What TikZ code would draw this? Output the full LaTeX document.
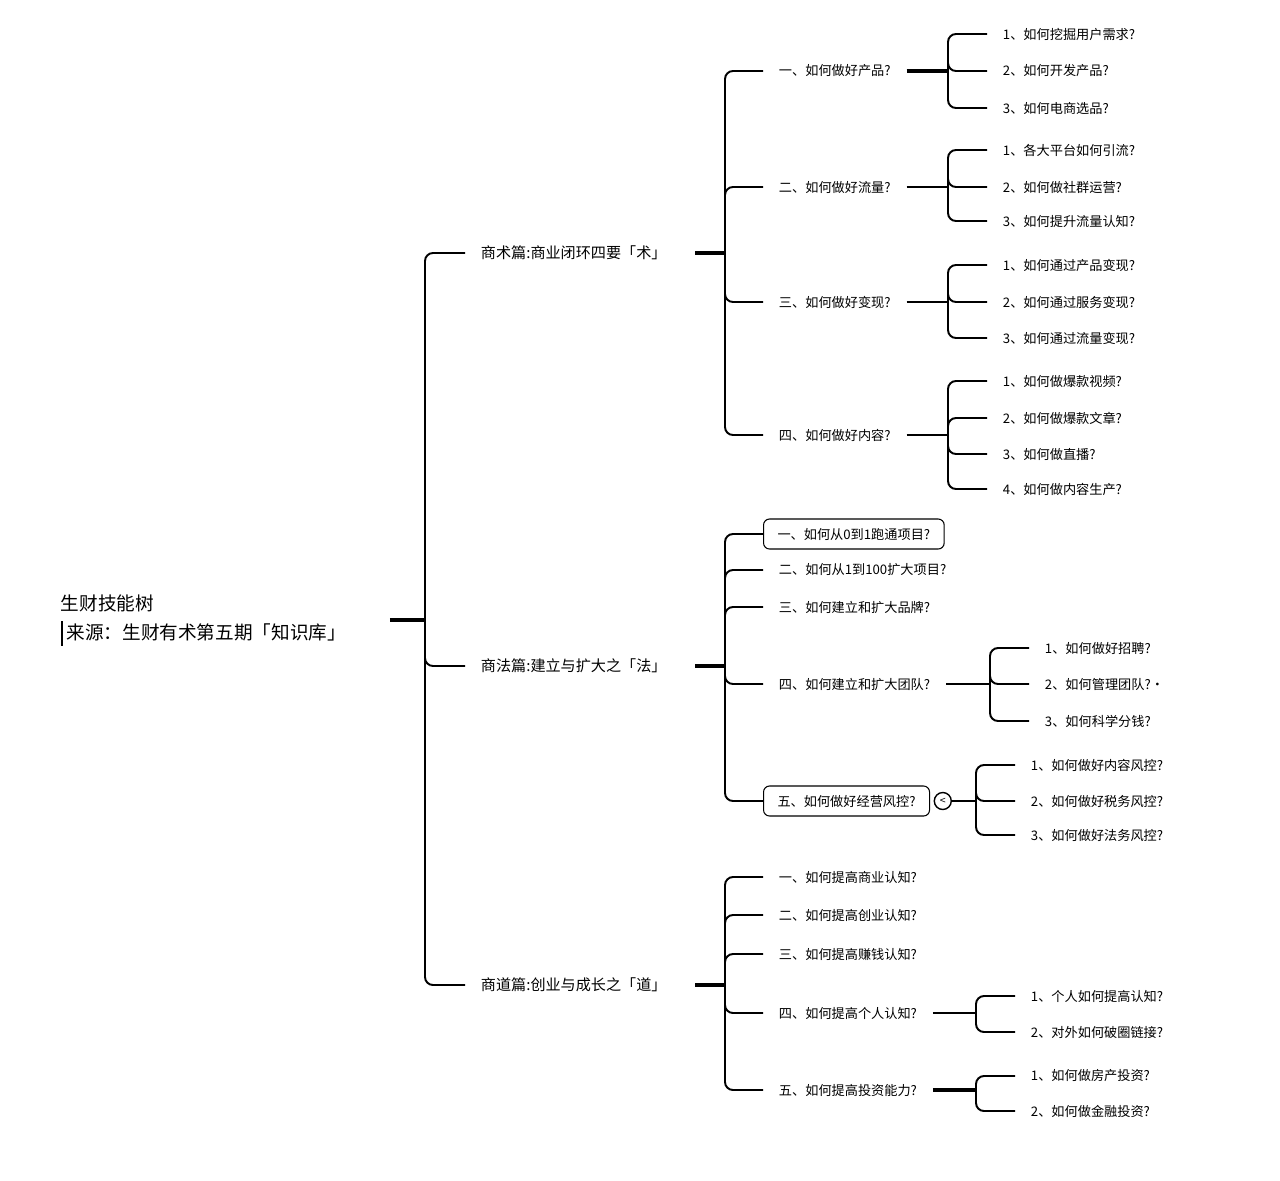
\documentclass[tikz,border=0pt]{standalone}
\usepackage{fontspec}
\setmainfont{Noto Sans CJK SC}
\usetikzlibrary{positioning}

\begin{document}
\begin{tikzpicture}[
            x = 0.02cm, y = -0.02cm, % one unit = one pixel of the sketch
            line width = 1.1pt, % line style
            link/.style = {line width = 1.1pt, rounded corners = 0.16cm},
            bold link/.style = {line width = 1.8pt}
        ]

        \tikzstyle{topic}=[
            anchor = west,
            inner xsep = 0.3cm,
            inner ysep = 0.12cm,
            font = \fontsize{8.6pt}{10pt}\selectfont
        ]
        \tikzstyle{sub}=[
            anchor = west,
            inner xsep = 0.3cm,
            inner ysep = 0.12cm,
            font = \fontsize{7.5pt}{9pt}\selectfont
        ]
        \tikzstyle{picked}=[
            draw = black,
            line width = 0.6pt,
            rounded corners = 0.12cm,
            inner xsep = 0.28cm,
            minimum height = 0.6cm
        ]

        \useasboundingbox (0,0) rectangle (1280,1180);

        % root
        \node[anchor=west, inner xsep=0.26cm, text width=6.3cm, align=left,
              font=\fontsize{10.6pt}{17pt}\selectfont] (root) at (47,620)
              {生财技能树\\\rule[-0.3em]{1.1pt}{1.3em}\hspace{0.2em}来源：生财有术第五期「知识库」};
        \coordinate (jr) at (425,620);

        % sections
        \node[topic] (s1) at (465,253) {商术篇:商业闭环四要「术」};
        \node[topic] (s2) at (465,666) {商法篇:建立与扩大之「法」};
        \node[topic] (s3) at (465,985) {商道篇:创业与成长之「道」};
        \coordinate (ja) at (725,253);
        \coordinate (jb) at (725,666);
        \coordinate (jc) at (725,985);

        % 术
        \node[sub] (a1) at (763,71)  {一、如何做好产品?};
        \node[sub] (a2) at (763,187) {二、如何做好流量?};
        \node[sub] (a3) at (763,302) {三、如何做好变现?};
        \node[sub] (a4) at (763,435) {四、如何做好内容?};
        \coordinate (ja1) at (948,71);
        \coordinate (ja2) at (948,187);
        \coordinate (ja3) at (948,302);
        \coordinate (ja4) at (948,435);

        \node[sub] (a11) at (987,34)  {1、如何挖掘用户需求?};
        \node[sub] (a12) at (987,71)  {2、如何开发产品?};
        \node[sub] (a13) at (987,108) {3、如何电商选品?};
        \node[sub] (a21) at (987,150) {1、各大平台如何引流?};
        \node[sub] (a22) at (987,187) {2、如何做社群运营?};
        \node[sub] (a23) at (987,221) {3、如何提升流量认知?};
        \node[sub] (a31) at (987,265) {1、如何通过产品变现?};
        \node[sub] (a32) at (987,302) {2、如何通过服务变现?};
        \node[sub] (a33) at (987,338) {3、如何通过流量变现?};
        \node[sub] (a41) at (987,381) {1、如何做爆款视频?};
        \node[sub] (a42) at (987,418) {2、如何做爆款文章?};
        \node[sub] (a43) at (987,454) {3、如何做直播?};
        \node[sub] (a44) at (987,489) {4、如何做内容生产?};

        % 法
        \node[sub, picked] (b1) at (763,534) {一、如何从0到1跑通项目?};
        \node[sub] (b2) at (763,570) {二、如何从1到100扩大项目?};
        \node[sub] (b3) at (763,607) {三、如何建立和扩大品牌?};
        \node[sub] (b4) at (763,684) {四、如何建立和扩大团队?};
        \node[sub, picked] (b5) at (763,801) {五、如何做好经营风控?};
        \node[circle, draw, line width=0.8pt, minimum size=0.34cm, inner sep=0pt,
              right=0.07cm of b5, font=\fontsize{6pt}{6pt}\selectfont] (fold) {<};
        \coordinate (jb4) at (990,684);
        \coordinate (jb5) at (976,801);

        \node[sub] (b41) at (1029,648) {1、如何做好招聘?};
        \node[sub] (b42) at (1029,684) {2、如何管理团队?·};
        \node[sub] (b43) at (1029,721) {3、如何科学分钱?};
        \node[sub] (b51) at (1015,765) {1、如何做好内容风控?};
        \node[sub] (b52) at (1015,801) {2、如何做好税务风控?};
        \node[sub] (b53) at (1015,835) {3、如何做好法务风控?};

        % 道
        \node[sub] (c1) at (763,877)  {一、如何提高商业认知?};
        \node[sub] (c2) at (763,915)  {二、如何提高创业认知?};
        \node[sub] (c3) at (763,954)  {三、如何提高赚钱认知?};
        \node[sub] (c4) at (763,1013) {四、如何提高个人认知?};
        \node[sub] (c5) at (763,1090) {五、如何提高投资能力?};
        \coordinate (jc4) at (976,1013);
        \coordinate (jc5) at (976,1090);

        \node[sub] (c41) at (1015,996)  {1、个人如何提高认知?};
        \node[sub] (c42) at (1015,1032) {2、对外如何破圈链接?};
        \node[sub] (c51) at (1015,1076) {1、如何做房产投资?};
        \node[sub] (c52) at (1015,1111) {2、如何做金融投资?};

        % connectors
        \draw[bold link] (root.east) -- (jr);
        \draw[link] (jr) |- (s1.west) (jr) |- (s2.west) (jr) |- (s3.west);

        \draw[bold link] (s1.east) ++(13,0) -- (ja);
        \draw[bold link] (s2.east) ++(13,0) -- (jb);
        \draw[bold link] (s3.east) ++(13,0) -- (jc);

        \draw[link] (ja) |- (a1.west) (ja) |- (a2.west) (ja) |- (a3.west) (ja) |- (a4.west);
        \draw[link] (jb) |- (b1.west) (jb) |- (b2.west) (jb) |- (b3.west) (jb) |- (b4.west) (jb) |- (b5.west);
        \draw[link] (jc) |- (c1.west) (jc) |- (c2.west) (jc) |- (c3.west) (jc) |- (c4.west) (jc) |- (c5.west);

        \draw[bold link] (a1.east) -- (ja1);
        \draw (a2.east) -- (ja2);
        \draw (a3.east) -- (ja3);
        \draw (a4.east) -- (ja4);
        \draw[link] (ja1) |- (a11.west) (ja1) |- (a12.west) (ja1) |- (a13.west);
        \draw[link] (ja2) |- (a21.west) (ja2) |- (a22.west) (ja2) |- (a23.west);
        \draw[link] (ja3) |- (a31.west) (ja3) |- (a32.west) (ja3) |- (a33.west);
        \draw[link] (ja4) |- (a41.west) (ja4) |- (a42.west) (ja4) |- (a43.west) (ja4) |- (a44.west);

        \draw (b4.east) -- (jb4);
        \draw (fold.east) -- (jb5);
        \draw[link] (jb4) |- (b41.west) (jb4) |- (b42.west) (jb4) |- (b43.west);
        \draw[link] (jb5) |- (b51.west) (jb5) |- (b52.west) (jb5) |- (b53.west);

        \draw (c4.east) -- (jc4);
        \draw[bold link] (c5.east) -- (jc5);
        \draw[link] (jc4) |- (c41.west) (jc4) |- (c42.west);
        \draw[link] (jc5) |- (c51.west) (jc5) |- (c52.west);
    \end{tikzpicture}
\end{document}
